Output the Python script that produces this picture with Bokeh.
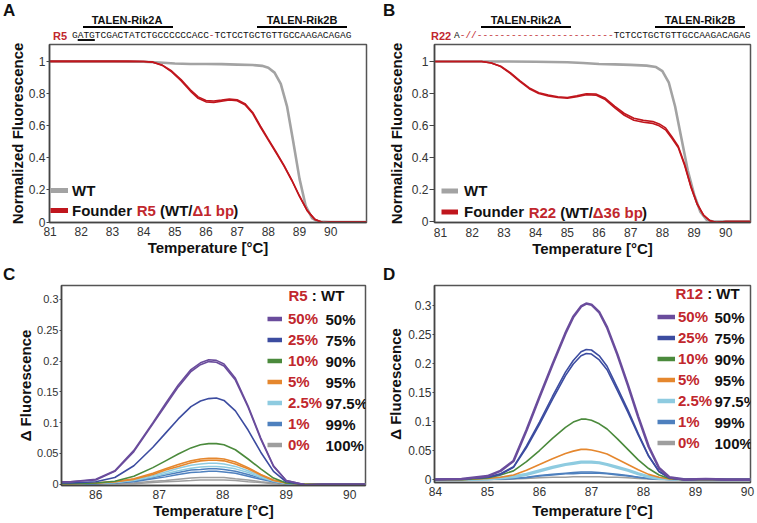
import math
from bokeh.plotting import figure
from bokeh.models import (Range1d, FixedTicker, NumeralTickFormatter, Label,
                          Legend, LegendItem, Div)
from bokeh.layouts import column, row
from bokeh.embed import file_html
from bokeh.resources import INLINE

FONT = "Liberation Sans"
MONO = "Liberation Mono"
RED_TXT = "#c1272d"
BLACK = "#111111"

# ------------------------------------------------------------------ data
# Panel A : normalized melt curves
a_wt_x = [80.8, 82.0, 83.0, 84.0, 84.5, 85.0, 85.5, 86.0, 86.5, 87.0, 87.5, 87.8,
          88.0, 88.2, 88.4, 88.6, 88.8, 89.0, 89.2, 89.4, 89.6, 90.0, 91.15]
a_wt_y = [1.0, 1.0, 1.0, 0.998, 0.993, 0.987, 0.984, 0.984, 0.983, 0.98, 0.977, 0.972,
          0.96, 0.93, 0.86, 0.72, 0.5, 0.27, 0.1, 0.025, 0.003, 0.0, 0.0]
a_r5_x = [80.8, 83.5, 84.0, 84.3, 84.6, 84.9, 85.2, 85.5, 85.75, 86.0, 86.25, 86.5, 86.75,
          87.0, 87.25, 87.5, 87.75, 88.0, 88.25, 88.5, 88.75, 89.0, 89.25, 89.5, 89.75, 90.0, 91.15]
a_r5_y1 = [1.0, 1.0, 0.999, 0.995, 0.975, 0.935, 0.88, 0.815, 0.77, 0.748, 0.745, 0.752, 0.76,
           0.755, 0.73, 0.675, 0.59, 0.51, 0.43, 0.35, 0.26, 0.16, 0.07, 0.015, -0.003, 0.0, 0.0]
a_r5_y2 = [1.0, 1.0, 0.999, 0.995, 0.977, 0.94, 0.887, 0.823, 0.779, 0.756, 0.753, 0.759, 0.766,
           0.761, 0.737, 0.682, 0.597, 0.516, 0.436, 0.354, 0.263, 0.162, 0.071, 0.015, -0.003, 0.0, 0.0]

# Panel B
b_wt_x = [80.68, 83.0, 84.0, 85.0, 85.5, 86.0, 86.5, 87.0, 87.5, 87.8, 88.0, 88.2, 88.4,
          88.6, 88.8, 89.0, 89.2, 89.4, 89.6, 90.78]
b_wt_y = [1.0, 1.0, 0.998, 0.995, 0.99, 0.984, 0.982, 0.979, 0.974, 0.965, 0.94, 0.87, 0.72,
          0.52, 0.32, 0.17, 0.06, 0.01, 0.0, 0.0]
b_r22_x = [80.68, 82.3, 82.6, 82.9, 83.2, 83.5, 83.8, 84.1, 84.4, 84.7, 85.0, 85.3, 85.6, 85.9,
           86.2, 86.5, 86.8, 87.1, 87.4, 87.7, 87.9, 88.1, 88.3, 88.5, 88.7, 88.9, 89.1, 89.3,
           89.5, 89.7, 90.0, 90.78]
b_r22_y1 = [1.0, 1.0, 0.99, 0.97, 0.93, 0.88, 0.835, 0.805, 0.79, 0.78, 0.775, 0.785, 0.798, 0.797,
            0.77, 0.72, 0.675, 0.645, 0.632, 0.625, 0.61, 0.585, 0.53, 0.47, 0.36, 0.22, 0.11, 0.04,
            0.005, -0.004, 0.0, 0.0]
b_r22_y2 = [1.0, 1.0, 0.99, 0.968, 0.926, 0.875, 0.83, 0.8, 0.785, 0.775, 0.77, 0.78, 0.792, 0.79,
            0.762, 0.71, 0.664, 0.633, 0.62, 0.613, 0.598, 0.573, 0.52, 0.462, 0.352, 0.215, 0.107,
            0.038, 0.005, -0.004, 0.0, 0.0]

# Panel C : difference curves (R5 : WT dilutions)
c_x = [85.17, 85.6, 86.0, 86.3, 86.6, 86.9, 87.1, 87.3, 87.5, 87.65, 87.78, 87.9, 88.02, 88.2,
       88.4, 88.6, 88.8, 89.0, 89.3, 89.6, 90.0, 90.25]
c_purple_1 = [0.004, 0.004, 0.008, 0.022, 0.055, 0.100, 0.131, 0.161, 0.186, 0.197, 0.202, 0.201,
              0.195, 0.172, 0.127, 0.075, 0.030, 0.006, -0.001, 0.0, 0.0, 0.0]
c_purple_2 = [0.004, 0.004, 0.007, 0.021, 0.053, 0.098, 0.128, 0.158, 0.183, 0.194, 0.199, 0.198,
              0.192, 0.169, 0.125, 0.073, 0.029, 0.006, -0.001, 0.0, 0.0, 0.0]
c_navy = [0.002, 0.002, 0.004, 0.011, 0.030, 0.060, 0.083, 0.106, 0.126, 0.135, 0.139, 0.140,
          0.136, 0.119, 0.088, 0.052, 0.021, 0.004, -0.001, 0.0, 0.0, 0.0]
c_green = [0.001, 0.001, 0.002, 0.005, 0.013, 0.027, 0.038, 0.049, 0.059, 0.064, 0.066, 0.066,
           0.064, 0.056, 0.041, 0.025, 0.010, 0.002, 0.0, 0.0, 0.0, 0.0]
c_orange_1 = [0.001, 0.001, 0.002, 0.004, 0.009, 0.018, 0.025, 0.032, 0.038, 0.041, 0.042, 0.042,
              0.041, 0.036, 0.027, 0.016, 0.007, 0.002, 0.0, 0.0, 0.0, 0.0]
c_orange_2 = [0.001, 0.001, 0.002, 0.004, 0.008, 0.016, 0.023, 0.029, 0.035, 0.038, 0.039, 0.039,
              0.038, 0.033, 0.025, 0.015, 0.006, 0.002, 0.0, 0.0, 0.0, 0.0]
c_lblue_1 = [0.001, 0.001, 0.002, 0.003, 0.007, 0.014, 0.020, 0.026, 0.031, 0.033, 0.034, 0.034,
             0.033, 0.029, 0.022, 0.013, 0.006, 0.002, 0.0, 0.0, 0.0, 0.0]
c_lblue_2 = [0.001, 0.001, 0.002, 0.003, 0.006, 0.012, 0.017, 0.022, 0.026, 0.028, 0.029, 0.029,
             0.028, 0.025, 0.019, 0.011, 0.005, 0.001, 0.0, 0.0, 0.0, 0.0]
c_blue_1 = [0.001, 0.001, 0.001, 0.003, 0.005, 0.011, 0.015, 0.019, 0.023, 0.024, 0.025, 0.025,
            0.024, 0.021, 0.016, 0.010, 0.004, 0.001, 0.0, 0.0, 0.0, 0.0]
c_blue_2 = [0.001, 0.001, 0.001, 0.002, 0.004, 0.009, 0.012, 0.016, 0.019, 0.020, 0.021, 0.021,
            0.020, 0.018, 0.013, 0.008, 0.004, 0.001, 0.0, 0.0, 0.0, 0.0]
c_gray_1 = [0.0, 0.0, 0.001, 0.001, 0.002, 0.005, 0.006, 0.008, 0.010, 0.011, 0.011, 0.011,
            0.011, 0.009, 0.007, 0.004, 0.002, 0.001, 0.0, 0.0, 0.0, 0.0]
c_gray_2 = [0.0, 0.0, 0.0, 0.001, 0.001, 0.003, 0.004, 0.005, 0.006, 0.007, 0.007, 0.007,
            0.007, 0.006, 0.004, 0.003, 0.001, 0.0, 0.0, 0.0, 0.0, 0.0]

# Panel D : difference curves (R12 : WT dilutions)
d_x = [83.9, 84.5, 85.0, 85.25, 85.5, 85.75, 86.0, 86.25, 86.5, 86.65, 86.8, 86.9, 87.0, 87.15,
       87.3, 87.5, 87.7, 87.9, 88.1, 88.3, 88.5, 88.8, 89.2, 89.6, 90.06]
d_purple = [0.0, 0.001, 0.006, 0.015, 0.032, 0.085, 0.142, 0.198, 0.252, 0.280, 0.298, 0.303,
            0.301, 0.288, 0.262, 0.215, 0.163, 0.108, 0.057, 0.020, 0.004, 0.0, 0.001, 0.0, 0.0]
d_navy_1 = [0.0, 0.001, 0.004, 0.010, 0.022, 0.058, 0.099, 0.143, 0.185, 0.205, 0.220, 0.224,
            0.223, 0.213, 0.195, 0.158, 0.120, 0.079, 0.041, 0.014, 0.003, 0.0, 0.001, 0.0, 0.0]
d_navy_2 = [0.0, 0.001, 0.004, 0.009, 0.021, 0.055, 0.095, 0.138, 0.179, 0.199, 0.213, 0.217,
            0.216, 0.206, 0.189, 0.153, 0.116, 0.077, 0.040, 0.014, 0.003, 0.0, 0.001, 0.0, 0.0]
d_green = [0.0, 0.0, 0.003, 0.008, 0.015, 0.031, 0.050, 0.071, 0.090, 0.099, 0.104, 0.104,
           0.102, 0.096, 0.087, 0.070, 0.052, 0.034, 0.019, 0.008, 0.002, 0.0, 0.0, 0.0, 0.0]
d_orange = [0.0, 0.0, 0.002, 0.004, 0.008, 0.016, 0.026, 0.036, 0.045, 0.049, 0.052, 0.052,
            0.051, 0.048, 0.044, 0.035, 0.026, 0.017, 0.009, 0.004, 0.001, 0.0, 0.0, 0.0, 0.0]
d_lblue = [0.0, 0.0, 0.001, 0.003, 0.005, 0.009, 0.015, 0.021, 0.026, 0.028, 0.030, 0.030,
           0.030, 0.029, 0.026, 0.021, 0.016, 0.010, 0.005, 0.002, 0.001, 0.0, 0.0, 0.0, 0.0]
d_blue_1 = [0.0, 0.0, 0.001, 0.001, 0.002, 0.004, 0.007, 0.009, 0.011, 0.012, 0.013, 0.013,
            0.013, 0.012, 0.011, 0.009, 0.007, 0.004, 0.002, 0.001, 0.0, 0.0, 0.0, 0.0, 0.0]
d_blue_2 = [0.0, 0.0, 0.0, 0.001, 0.002, 0.003, 0.006, 0.008, 0.010, 0.010, 0.011, 0.011,
            0.011, 0.011, 0.010, 0.008, 0.006, 0.004, 0.002, 0.001, 0.0, 0.0, 0.0, 0.0, 0.0]
d_gray = [0.0, 0.0, 0.0, 0.0, 0.001, 0.002, 0.003, 0.004, 0.004, 0.005, 0.005, 0.005,
          0.005, 0.005, 0.004, 0.004, 0.003, 0.002, 0.001, 0.0, 0.0, 0.0, 0.0, 0.0, 0.0]

# tick values / labels / texts
ab_xticks = [81, 82, 83, 84, 85, 86, 87, 88, 89, 90]
ab_yticks = [0, 0.2, 0.4, 0.6, 0.8, 1.0]
c_xticks = [86, 87, 88, 89, 90]
d_xticks = [84, 85, 86, 87, 88, 89, 90]
cd_yticks = [0, 0.05, 0.1, 0.15, 0.2, 0.25, 0.3]
mutant_pct = ["50%", "25%", "10%", "5%", "2.5%", "1%", "0%"]
wt_pct = ["50%", "75%", "90%", "95%", "97.5%", "99%", "100%"]
seq_a1 = "GATGTCGACTATCTGCCCCCCACC"
seq_a2 = "TCTCCTGCTGTTGCCAAGACAGAG"
seq_b0 = "A"
seq_b1 = "-//" + "-" * 24
seq_b2 = "TCTCCTGCTGTTGCCAAGACAGAG"

# colours
WT_GRAY = "#a3a3a3"
FOUNDER_RED = "#c0161d"
PURPLE = "#6a4c9c"
NAVY = "#3c4ca0"
GREEN = "#4b8a3c"
ORANGE = "#e5872e"
LBLUE = "#8ecbe0"
BLUE = "#4e80be"
GRAY = "#9e9e9e"

BOLD_W = {' ': .278, '(': .333, ')': .333, '/': .278, ':': .333, '%': .889, '.': .278,
          'R': .722, 'W': .944, 'T': .611, 'F': .611, 'o': .611, 'u': .611, 'n': .611,
          'd': .611, 'e': .556, 'r': .389, 'b': .611, 'p': .611, 'Δ': .667}


def tw(s, size):
    return sum(BOLD_W.get(ch, .556) for ch in s) * size


def lab(p, text, sx, sy, size, color=BLACK, bold=True, align="left", font=FONT):
    p.add_layout(Label(x=sx, y=sy, x_units="screen", y_units="screen", text=text,
                       text_font=font, text_font_size=f"{size}px",
                       text_font_style="bold" if bold else "normal",
                       text_color=color, text_align=align, text_baseline="middle"))


# ---- HTML header helpers (texts that sit above the plot frames)
def span(inner, left, cy, size, color=BLACK, bold=True, font=FONT, center=False):
    tr = "transform:translateX(-50%);" if center else ""
    wt = "bold" if bold else "normal"
    return (f"<span style=\"position:absolute;left:{left}px;top:{cy - size / 2}px;"
            f"font-family:'{font}';font-size:{size}px;line-height:{size}px;font-weight:{wt};"
            f"color:{color};white-space:pre;{tr}\">{inner}</span>")


def hbar(left, right, y, th=1.6):
    return (f"<div style=\"position:absolute;left:{left}px;top:{y - th / 2}px;"
            f"width:{right - left}px;height:{th}px;background:#000;\"></div>")


def colored(txt, color):
    return f"<span style=\"color:{color}\">{txt}</span>"


def header(w, h, parts):
    html = (f"<div style=\"position:relative;width:{w}px;height:{h}px;overflow:hidden;"
            f"background:white;\">" + "".join(parts) + "</div>")
    return Div(text=html, width=w, height=h, margin=0)


def make_fig(xr, yr, fw, fh, bl, br, bt, bb, xticks, yticks, ylabel, ytick_size,
             ytick_out, ylabel_standoff, xtick_standoff, xlabel_standoff):
    p = figure(frame_width=fw, frame_height=fh, x_range=Range1d(*xr), y_range=Range1d(*yr),
               output_backend="svg", toolbar_location=None,
               min_border_left=bl, min_border_right=br, min_border_top=bt, min_border_bottom=bb)
    p.xaxis.ticker = FixedTicker(ticks=xticks)
    p.yaxis.ticker = FixedTicker(ticks=yticks)
    p.yaxis.formatter = NumeralTickFormatter(format="0.[00]")
    for ax in p.axis:
        ax.major_label_text_font = FONT
        ax.major_label_text_color = "#333333"
        ax.axis_line_color = "#444444"
        ax.axis_line_width = 1.5
        ax.major_tick_line_color = "#444444"
        ax.minor_tick_line_color = None
        ax.axis_label_text_font = FONT
        ax.axis_label_text_font_size = "15px"
        ax.axis_label_text_font_style = "bold"
        ax.axis_label_text_color = BLACK
    p.xaxis.major_label_text_font_size = "12px"
    p.yaxis.major_label_text_font_size = f"{ytick_size}px"
    p.xaxis.major_tick_out = 0
    p.xaxis.major_tick_in = 0
    p.xaxis.major_label_standoff = xtick_standoff
    p.xaxis.axis_label = "Temperature [°C]"
    p.xaxis.axis_label_standoff = xlabel_standoff
    p.yaxis.major_tick_out = ytick_out
    p.yaxis.major_tick_in = 0
    p.yaxis.major_label_standoff = 1
    p.yaxis.axis_label = ylabel
    p.yaxis.axis_label_standoff = ylabel_standoff
    p.grid.visible = False
    p.outline_line_color = "#555555"
    p.outline_line_width = 1.5
    p.background_fill_color = "white"
    p.border_fill_color = "white"
    return p


def ab_legend(p, fh, sx, top_off, pitch, gw, standoff, proxies, pieces):
    leg = Legend(items=[LegendItem(label="WT", renderers=[proxies[0]]),
                        LegendItem(label="Founder", renderers=[proxies[1]])],
                 location=(sx, fh - top_off - 2 * pitch), margin=0, padding=0, spacing=0,
                 glyph_width=gw, glyph_height=pitch, label_height=pitch,
                 label_standoff=standoff, border_line_alpha=0, background_fill_alpha=0,
                 inactive_fill_alpha=0,
                 label_text_font=FONT, label_text_font_size="15px",
                 label_text_font_style="bold", label_text_color=BLACK)
    p.add_layout(leg)
    x = sx + gw + standoff + tw("Founder ", 15)
    sy = fh - (top_off + 1.5 * pitch)
    for txt, col in pieces:
        if txt.strip():
            lab(p, txt, x, sy, 15, color=col)
        x += tw(txt, 15)


def dil_legend(p, fh, sx, top_off, pitch, gw, standoff, black_sx, proxies):
    items = [LegendItem(label=lbl, renderers=[r]) for lbl, r in zip(mutant_pct, proxies)]
    leg = Legend(items=items, location=(sx, fh - top_off - len(items) * pitch),
                 margin=0, padding=0, spacing=0,
                 glyph_width=gw, glyph_height=pitch, label_height=pitch,
                 label_standoff=standoff, border_line_alpha=0, background_fill_alpha=0,
                 inactive_fill_alpha=0,
                 label_text_font=FONT, label_text_font_size="15px",
                 label_text_font_style="bold", label_text_color=RED_TXT)
    p.add_layout(leg)
    for i, t in enumerate(wt_pct):
        lab(p, t, black_sx, fh - (top_off + (i + 0.5) * pitch), 15)


SEQ = 9.5  # sequence font size (monospace)

# ------------------------------------------------------------------ Panel A
seqA = (seq_a1[0] + "<span style=\"text-decoration:underline;text-decoration-thickness:1.5px;"
        "text-underline-offset:1px\">" + seq_a1[1:4] + "</span>" + seq_a1[4:]
        + colored("-", RED_TXT) + seq_a2)
hA = header(378, 43, [
    span("A", 3, 10, 17),
    span("TALEN-Rik2A", 127, 20, 11, center=True),
    hbar(83, 173, 27),
    span("TALEN-Rik2B", 302, 20, 11, center=True),
    hbar(257, 347, 27),
    span("R5", 53, 36, 11, color=RED_TXT),
    span(seqA, 72, 36, SEQ, bold=False, font=MONO),
])

FH_AB = 178
# frame: page x 49..366
pA = make_fig((80.98, 91.15), (-0.003, 1.105), 317, FH_AB, 49, 12, 1, 40, ab_xticks, ab_yticks,
              "Normalized Fluorescence", 12, 3, 0, 4, 0)
pA.line(a_wt_x, a_wt_y, line_color=WT_GRAY, line_width=2.6)
pA.line(a_r5_x, a_r5_y1, line_color=FOUNDER_RED, line_width=1.6)
pA.line(a_r5_x, a_r5_y2, line_color=FOUNDER_RED, line_width=1.6)
pxA = [pA.line(a_wt_x, a_wt_y, line_color=WT_GRAY, line_width=5, visible=False),
       pA.line(a_r5_x, a_r5_y1, line_color=FOUNDER_RED, line_width=5, visible=False)]
ab_legend(pA, FH_AB, 1, 136, 20, 18, 4, pxA,
          [("R5", RED_TXT), (" ", BLACK), ("(WT/", BLACK), ("Δ1 bp", RED_TXT), (")", BLACK)])

# ------------------------------------------------------------------ Panel B
seqB = seq_b0 + colored(seq_b1, RED_TXT) + seq_b2
hB = header(379, 43, [
    span("B", 5, 10, 17),
    span("TALEN-Rik2A", 148, 20, 11, center=True),
    hbar(103, 193, 27),
    span("TALEN-Rik2B", 322, 20, 11, center=True),
    hbar(277, 367, 27),
    span("R22", 53, 36, 11, color=RED_TXT),
    span(seqB, 76, 36, SEQ, bold=False, font=MONO),
])

# frame: page x 434..750
pB = make_fig((80.81, 90.78), (-0.006, 1.106), 316, FH_AB, 56, 7, 1, 40, ab_xticks, ab_yticks,
              "Normalized Fluorescence", 12, 5, 4, 5, 0)
pB.line(b_wt_x, b_wt_y, line_color=WT_GRAY, line_width=2.6)
pB.line(b_r22_x, b_r22_y1, line_color=FOUNDER_RED, line_width=1.6)
pB.line(b_r22_x, b_r22_y2, line_color=FOUNDER_RED, line_width=1.6)
pxB = [pB.line(b_wt_x, b_wt_y, line_color=WT_GRAY, line_width=5, visible=False),
       pB.line(b_r22_x, b_r22_y1, line_color=FOUNDER_RED, line_width=5, visible=False)]
ab_legend(pB, FH_AB, 7, 136, 21, 17, 6, pxB,
          [("R22", RED_TXT), (" ", BLACK), ("(WT/", BLACK), ("Δ36 bp", RED_TXT), (")", BLACK)])

# ------------------------------------------------------------------ Panel C
hC = header(378, 22, [span("C", 3, 12, 17)])
FH_C = 200
# frame: page x 61..365
pC = make_fig((85.46, 90.25), (-0.002, 0.3225), 304, FH_C, 61, 13, 1, 38, c_xticks, cd_yticks,
              "Δ Fluorescence", 11, 2, 0, 4, 0)
for ys, col, w in [(c_gray_2, GRAY, 1.5), (c_gray_1, GRAY, 1.5), (c_blue_2, BLUE, 1.5),
                   (c_blue_1, BLUE, 1.5), (c_lblue_2, LBLUE, 1.5), (c_lblue_1, LBLUE, 1.5),
                   (c_orange_2, ORANGE, 1.6), (c_orange_1, ORANGE, 1.6), (c_green, GREEN, 1.6),
                   (c_navy, NAVY, 1.6), (c_purple_2, PURPLE, 1.6), (c_purple_1, PURPLE, 1.6)]:
    pC.line(c_x, ys, line_color=col, line_width=w)
pxC = [pC.line(c_x, ys, line_color=col, line_width=4.5, visible=False)
       for ys, col in [(c_purple_1, PURPLE), (c_navy, NAVY), (c_green, GREEN),
                       (c_orange_1, ORANGE), (c_lblue_1, LBLUE), (c_blue_1, BLUE),
                       (c_gray_1, GRAY)]]
dil_legend(pC, FH_C, 206, 23, 21, 15, 6, 264, pxC)
lab(pC, "R5", 227, FH_C - 10, 15, color=RED_TXT)
lab(pC, ": WT", 227 + tw("R5 ", 15), FH_C - 10, 15)

# ------------------------------------------------------------------ Panel D
hD = header(379, 22, [span("D", 5, 12, 17)])
FH_D = 197
# frame: page x 434..750
pD = make_fig((83.98, 90.06), (-0.005, 0.334), 316, FH_D, 56, 7, 1, 41, d_xticks, cd_yticks,
              "Δ Fluorescence", 12, 2, 1, 4, 3)
for ys, col, w in [(d_gray, GRAY, 1.5), (d_blue_2, BLUE, 1.5), (d_blue_1, BLUE, 1.5),
                   (d_lblue, LBLUE, 3.2), (d_orange, ORANGE, 1.6), (d_green, GREEN, 1.6),
                   (d_navy_2, NAVY, 1.6), (d_navy_1, NAVY, 1.6), (d_purple, PURPLE, 2.6)]:
    pD.line(d_x, ys, line_color=col, line_width=w)
pxD = [pD.line(d_x, ys, line_color=col, line_width=4.5, visible=False)
       for ys, col in [(d_purple, PURPLE), (d_navy_1, NAVY), (d_green, GREEN),
                       (d_orange, ORANGE), (d_lblue, LBLUE), (d_blue_1, BLUE),
                       (d_gray, GRAY)]]
dil_legend(pD, FH_D, 223, 21, 21, 18, 3, 280, pxD)
lab(pD, "R12", 241, FH_D - 8, 15, color=RED_TXT)
lab(pD, ": WT", 241 + tw("R12 ", 15), FH_D - 8, 15)

layout = column(row(column(hA, pA), column(hB, pB)),
                row(column(hC, pC), column(hD, pD)))
open("out.html", "w", encoding="utf-8").write(file_html(layout, INLINE))
